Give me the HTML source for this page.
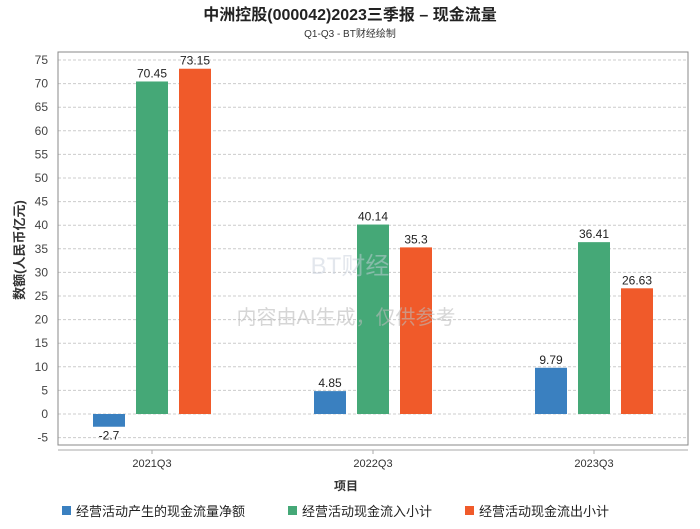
<!DOCTYPE html>
<html><head><meta charset="utf-8"><style>
body{margin:0;background:#fff;}
svg text{font-family:"Liberation Sans","Noto Sans CJK SC",sans-serif;}
</style></head><body>
<svg id="chart" width="700" height="524" xmlns="http://www.w3.org/2000/svg">
<text x="350" y="20" text-anchor="middle" font-size="16" font-weight="bold" fill="#222">中洲控股(000042)2023三季报 – 现金流量</text>
<text x="350" y="37" text-anchor="middle" font-size="10" fill="#333">Q1-Q3 - BT财经绘制</text>
<g id="grid"></g>
<rect x="58" y="52" width="630" height="393" fill="none" stroke="#888" stroke-width="1"/>
<line x1="58" y1="450" x2="688" y2="450" stroke="#aaa"/>
<g id="bars"></g>
<text x="350" y="274" text-anchor="middle" font-size="24" fill="#c8d0dc" fill-opacity="0.5">BT财经</text>
<text x="346" y="324" text-anchor="middle" font-size="20" fill="#bbb" fill-opacity="0.6">内容由AI生成，仅供参考</text>
<text x="346" y="490" text-anchor="middle" font-size="12" font-weight="bold" fill="#333">项目</text>
<text transform="translate(24,250) rotate(-90)" text-anchor="middle" font-size="13" font-weight="bold" fill="#333">数额(人民币亿元)</text>
<g id="legend"></g>
</svg>
<script>
const categories=["2021Q3","2022Q3","2023Q3"];
const netFlow=[-2.7,4.85,9.79];
const inflow=[70.45,40.14,36.41];
const outflow=[73.15,35.3,26.63];
const yTicks=[-5,0,5,10,15,20,25,30,35,40,45,50,55,60,65,70,75];
const seriesNames=["经营活动产生的现金流量净额","经营活动现金流入小计","经营活动现金流出小计"];
const colors=["#3a80c0","#45a877","#f05a2a"];
const NS="http://www.w3.org/2000/svg";
const y=v=>414-v*(354/75);
const x=i=>373+(i-1)*221;
function mk(tag,attrs,parent){const e=document.createElementNS(NS,tag);for(const k in attrs)e.setAttribute(k,attrs[k]);parent.appendChild(e);return e;}
const grid=document.getElementById('grid');
yTicks.forEach(t=>{
  const l=mk('line',{x1:58,x2:688,y1:y(t),y2:y(t),stroke:'#ccc','stroke-dasharray':'3,2'},grid);
  
  
  const tx=mk('text',{x:48,y:y(t)+4,'text-anchor':'end','font-size':12,fill:'#444'},grid);
  tx.textContent=t;
  
  
});
const bars=document.getElementById('bars');
const series=[netFlow,inflow,outflow];
categories.forEach((c,i)=>{
  const tk=mk('line',{x1:x(i),x2:x(i),y1:450,y2:454,stroke:'#aaa'},bars);
  
  
  const lb=mk('text',{x:x(i),y:467,'text-anchor':'middle','font-size':11,fill:'#333'},bars);
  lb.textContent=c;
  
  
  series.forEach((s,j)=>{
    const v=s[i];const cx=x(i)+(j-1)*43;
    const top=Math.min(y(v),y(0)),h=Math.abs(y(v)-y(0));
    const r=mk('rect',{x:cx-16,y:top,width:32,height:h,fill:colors[j]},bars);
    
    
    const t=mk('text',{x:cx,y:v<0?y(v)+13:y(v)-4,'text-anchor':'middle','font-size':12,fill:'#222'},bars);
    t.textContent=v;
    
    
  });
});
const lg=document.getElementById('legend');
const lx=[62,288,465];
seriesNames.forEach((n,j)=>{
  const r=mk('rect',{x:lx[j],y:506,width:9,height:9,fill:colors[j]},lg);
  
  
  const t=mk('text',{x:lx[j]+14,y:516,'font-size':13,fill:'#222'},lg);
  t.textContent=n;
  
  
});
</script>
</body></html>
